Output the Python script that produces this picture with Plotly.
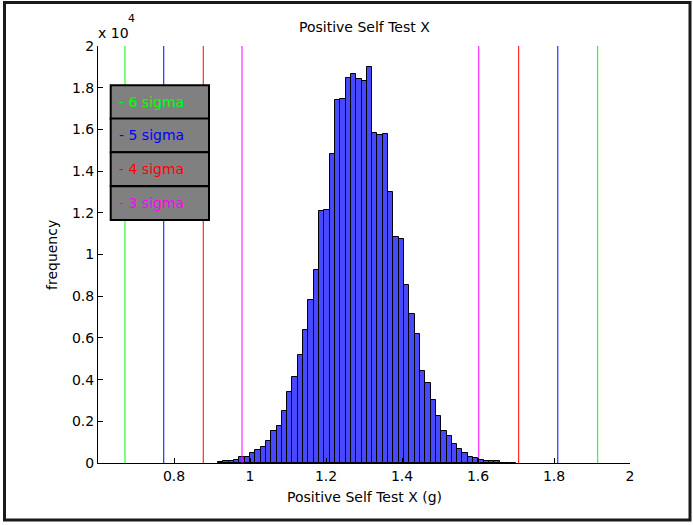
import plotly.graph_objects as go
import numpy as np

# ---- data ----
bin_start = 0.916          # left edge of first bin (g)
bin_width = 0.01398        # bin width (g)
counts = [30, 100, 100, 140, 270, 270, 490, 610, 780, 1070, 1550, 1790, 2490, 3420,
          4120, 5180, 6370, 7800, 9260, 12070, 12120, 14810, 17410, 17470, 18480,
          18640, 18420, 18320, 19010, 15840, 15720, 15760, 13010, 10840, 10760, 8540,
          7130, 6190, 4430, 3850, 3020, 2250, 1550, 1310, 910, 670, 490, 300, 240,
          160, 100, 80, 80, 20, 20, 20]
centers = [bin_start + (i + 0.5) * bin_width for i in range(len(counts))]

sigma_labels = ["- 6 sigma", "- 5 sigma", "- 4 sigma", "- 3 sigma"]
sigma_colors = ["#00FF00", "#0000FF", "#FF0000", "#FF00FF"]
sigma_lower = [0.671, 0.773, 0.877, 0.979]
sigma_upper = [1.915, 1.810, 1.707, 1.602]

x_ticks = [0.8, 1.0, 1.2, 1.4, 1.6, 1.8, 2.0]
x_ticktext = ["0.8", "1", "1.2", "1.4", "1.6", "1.8", "2"]
y_ticks = [0, 2000, 4000, 6000, 8000, 10000, 12000, 14000, 16000, 18000, 20000]
y_ticktext = ["0", "0.2", "0.4", "0.6", "0.8", "1", "1.2", "1.4", "1.6", "1.8", "2"]

title_text = "Positive Self Test X"
xlabel = "Positive Self Test X (g)"
ylabel = "frequency"

# ---- layout geometry (pixels) ----
W, H = 693, 525
L, R, T, B = 98, 63, 46, 62
PW, PH = W - L - R, H - T - B
def px(x):
    return (x - L) / PW
def py(y):
    return (H - B - y) / PH

FONT = "DejaVu Sans"
fs = 14

fig = go.Figure()
fig.add_trace(go.Bar(x=centers, y=counts, width=bin_width,
                     marker=dict(color="#4848FF", line=dict(color="black", width=1)),
                     hoverinfo="x+y"))
for lo, hi, c in zip(sigma_lower, sigma_upper, sigma_colors):
    for v in (lo, hi):
        fig.add_trace(go.Scatter(x=[v, v], y=[0, 20000], mode="lines",
                                 line=dict(color=c, width=1)))

shapes = []
annotations = []
# legend-like boxes
box_top = [85.3, 118.6, 152.3, 186.3]
box_h = 33.7
for i, (lab, c) in enumerate(zip(sigma_labels, sigma_colors)):
    y0 = box_top[i]
    shapes.append(dict(type="rect", xref="paper", yref="paper",
                       x0=px(110.7), x1=px(209), y0=py(y0 + box_h), y1=py(y0),
                       fillcolor="#808080", line=dict(color="black", width=2),
                       layer="above"))
    annotations.append(dict(text=lab, xref="paper", yref="paper",
                            x=px(117), y=py(y0 + box_h / 2), xanchor="left",
                            yanchor="middle", showarrow=False,
                            font=dict(family=FONT, size=fs, color=c)))
# outer frame
shapes.append(dict(type="rect", xref="paper", yref="paper",
                   x0=px(4.5), x1=px(690), y0=py(520), y1=py(2.5),
                   line=dict(color="#1a1a1a", width=3), fillcolor="rgba(0,0,0,0)",
                   layer="above"))

annotations += [
    dict(text=title_text, xref="paper", yref="paper", x=0.5, y=py(27),
         xanchor="center", yanchor="middle", showarrow=False,
         font=dict(family=FONT, size=fs, color="black")),
    dict(text=xlabel, xref="paper", yref="paper", x=0.5, y=py(497),
         xanchor="center", yanchor="middle", showarrow=False,
         font=dict(family=FONT, size=fs, color="black")),
    dict(text=ylabel, xref="paper", yref="paper", x=px(52), y=py(255),
         xanchor="center", yanchor="middle", showarrow=False, textangle=-90,
         font=dict(family=FONT, size=fs, color="black")),
    dict(text="x 10", xref="paper", yref="paper", x=px(96), y=py(33),
         xanchor="left", yanchor="middle", showarrow=False,
         font=dict(family=FONT, size=fs, color="black")),
    dict(text="4", xref="paper", yref="paper", x=px(125.5), y=py(19),
         xanchor="left", yanchor="middle", showarrow=False,
         font=dict(family=FONT, size=11, color="black")),
]

axis_common = dict(showgrid=False, zeroline=False, showline=True, linecolor="black",
                   linewidth=1, ticks="inside", ticklen=5, tickcolor="black",
                   tickwidth=1, tickfont=dict(family=FONT, size=fs, color="black"),
                   mirror=False)

fig.update_layout(
    width=W, height=H, margin=dict(l=L, r=R, t=T, b=B, pad=0),
    paper_bgcolor="white", plot_bgcolor="white",
    showlegend=False, bargap=0,
    xaxis=dict(range=[0.6, 2.0], tickvals=x_ticks, ticktext=x_ticktext, **axis_common),
    yaxis=dict(range=[0, 20000], tickvals=y_ticks, ticktext=y_ticktext, **axis_common),
    shapes=shapes, annotations=annotations,
)

fig.write_html("out.html")
